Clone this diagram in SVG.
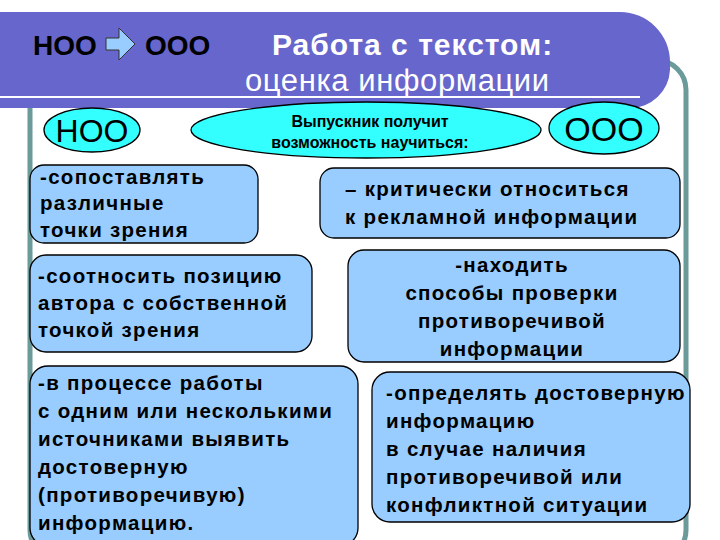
<svg xmlns="http://www.w3.org/2000/svg" width="720" height="540" viewBox="0 0 720 540">
<style>
text{font-family:"Liberation Sans",Arial,sans-serif;fill:#000}
.b{fill:#99ccff;stroke:#000;stroke-width:1.3}
.e{fill:#33ffff;stroke:#000;stroke-width:1.3}
.t{font-size:20.5px;font-weight:bold;letter-spacing:1.3px}
</style>
<rect width="720" height="540" fill="#fff"/>
<rect x="30" y="60" width="656" height="500" rx="30" fill="#fff" stroke="#6a9a9a" stroke-width="5"/>
<path d="M0,12 H620 A50,50 0 0 1 670,62 V70 A40,40 0 0 1 630,108 H0 Z" fill="#6666cc"/>
<line x1="0" y1="97" x2="640" y2="97" stroke="#fff" stroke-width="2"/>
<g id="title">
<text x="33" y="55" font-size="28" font-weight="bold">НОО</text>
<path d="M106,38 h13 v-10 l16,16 l-16,16 v-10 h-13 z" fill="#99ccff" stroke="#333" stroke-width="1"/>
<text x="145" y="55" font-size="28" font-weight="bold">ООО</text>
<text x="272" y="55" font-size="30" font-weight="bold" letter-spacing="1" style="fill:#fff">Работа с текстом:</text>
<text x="245" y="91" font-size="31" letter-spacing="0.6" style="fill:#fff">оценка информации</text>
</g>
<g id="noo"><ellipse class="e" cx="92" cy="130" rx="48" ry="22"/><text x="92" y="142" font-size="32" text-anchor="middle">НОО</text></g>
<g id="mid"><ellipse class="e" cx="366" cy="130" rx="175" ry="28"/>
<text x="370" y="127" font-size="16" font-weight="bold" text-anchor="middle">Выпускник получит</text>
<text x="370" y="148" font-size="16" font-weight="bold" text-anchor="middle">возможность научиться:</text></g>
<g id="ooo"><ellipse class="e" cx="604" cy="128" rx="55" ry="26"/><text x="604" y="141" font-size="34" text-anchor="middle">ООО</text></g>
<g id="b1"><rect class="b" x="30" y="165" width="228" height="78" rx="14"/>
<text class="t" x="40" y="184">-сопоставлять</text><text class="t" x="40" y="210">различные</text><text class="t" x="40" y="237">точки зрения</text></g>
<g id="b2"><rect class="b" x="320" y="168" width="360" height="70" rx="14"/>
<text class="t" x="345" y="196">– критически относиться</text><text class="t" x="345" y="224">к рекламной информации</text></g>
<g id="b3"><rect class="b" x="30" y="255" width="282" height="97" rx="16"/>
<text class="t" x="38" y="283">-соотносить позицию</text><text class="t" x="38" y="310">автора с собственной</text><text class="t" x="38" y="337">точкой зрения</text></g>
<g id="b4"><rect class="b" x="348" y="250" width="332" height="112" rx="16"/>
<g text-anchor="middle"><text class="t" x="512" y="272">-находить</text><text class="t" x="512" y="300">способы проверки</text><text class="t" x="512" y="328">противоречивой</text><text class="t" x="512" y="356">информации</text></g></g>
<g id="b5"><rect class="b" x="30" y="366" width="328" height="180" rx="18"/>
<text class="t" x="38" y="390">-в процессе работы</text><text class="t" x="38" y="418">с одним или несколькими</text><text class="t" x="38" y="446">источниками выявить</text><text class="t" x="38" y="474">достоверную</text><text class="t" x="38" y="502">(противоречивую)</text><text class="t" x="38" y="530">информацию.</text></g>
<g id="b6"><rect class="b" x="372" y="372" width="318" height="150" rx="18"/>
<text class="t" x="386" y="400">-определять достоверную</text><text class="t" x="386" y="428">информацию</text><text class="t" x="386" y="456">в случае наличия</text><text class="t" x="386" y="484">противоречивой или</text><text class="t" x="386" y="512">конфликтной ситуации</text></g>
<g id="connectors"/>
</svg>
